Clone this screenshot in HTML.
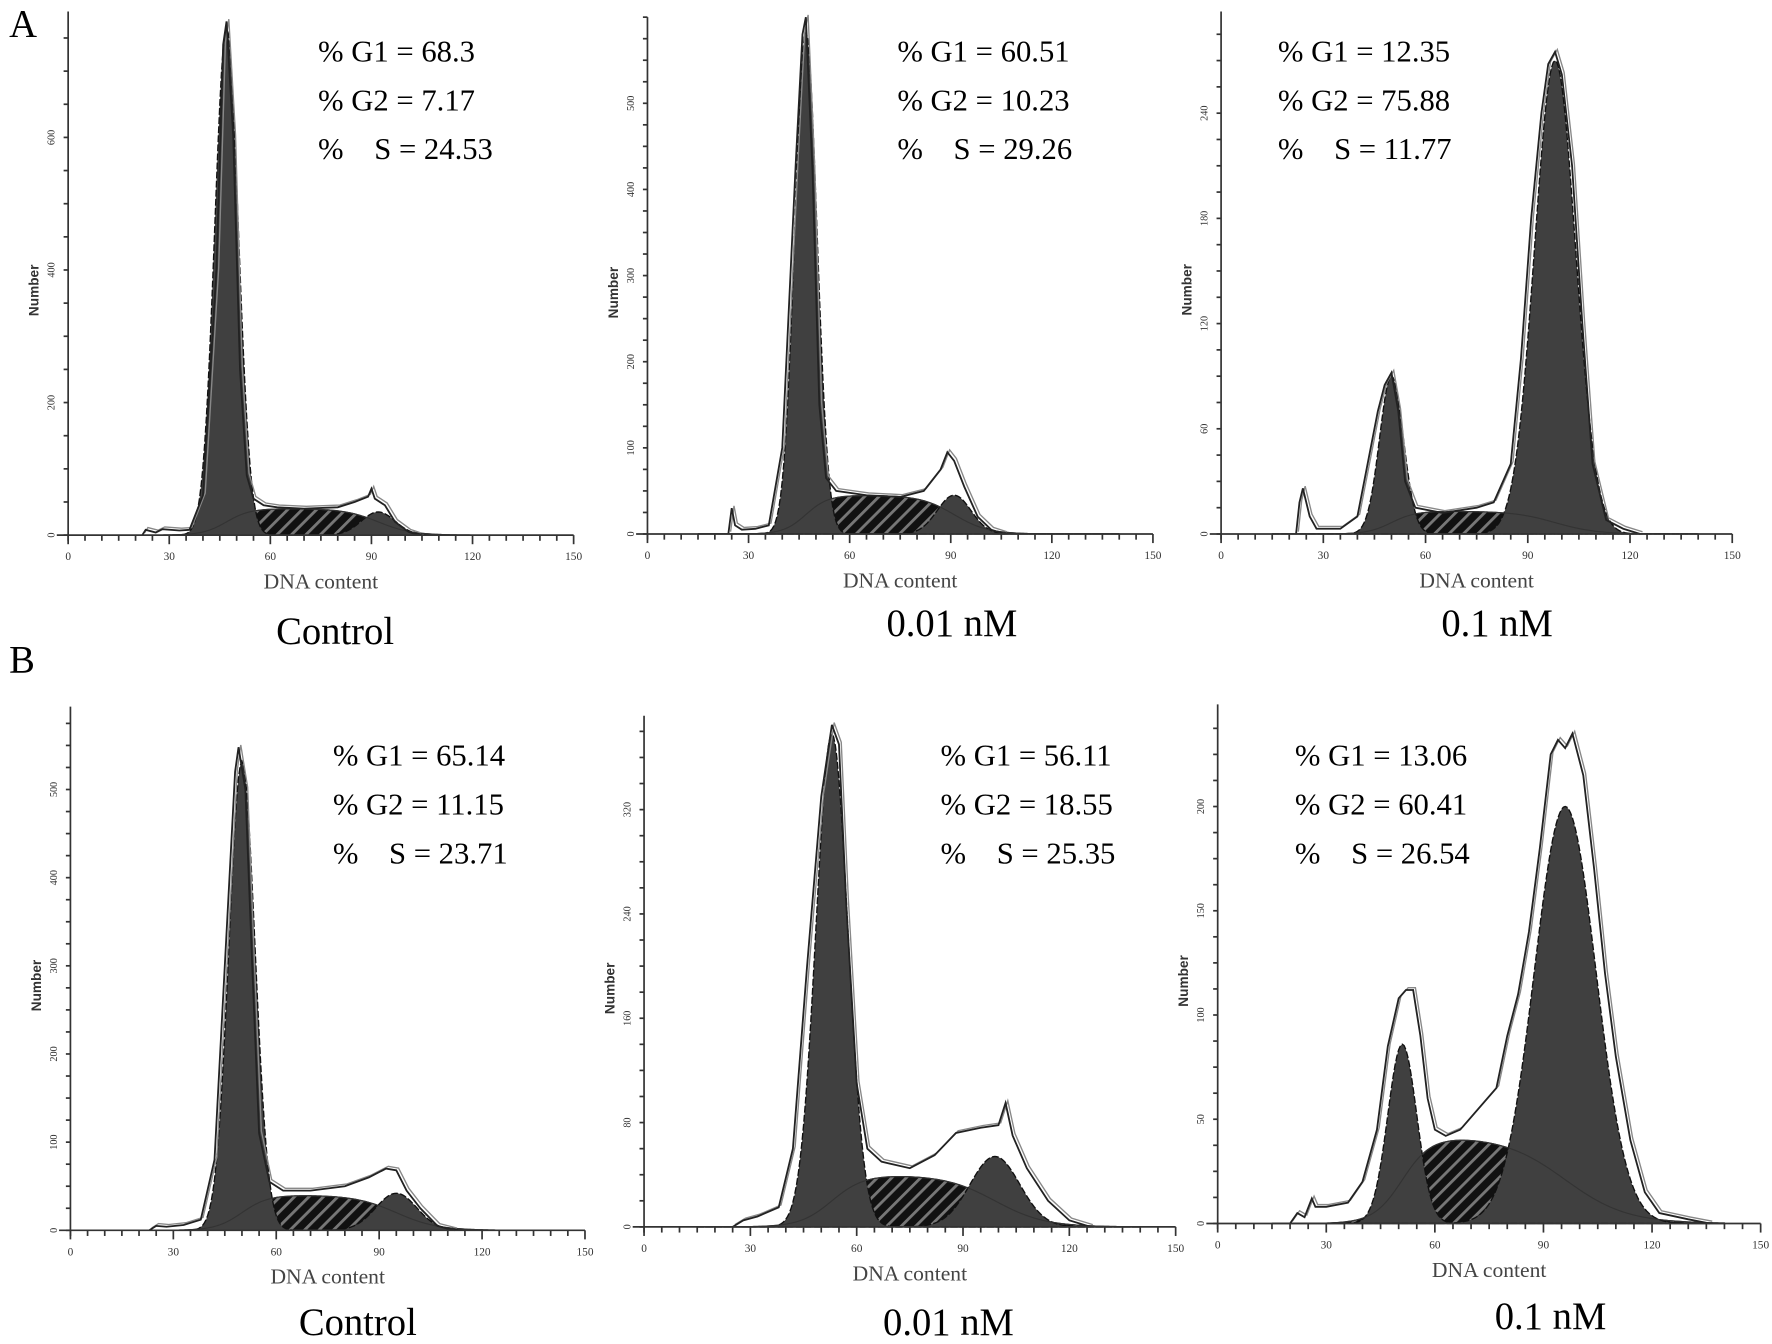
<!DOCTYPE html>
<html><head><meta charset="utf-8"><style>
html,body{margin:0;padding:0;background:#fff;}
svg{display:block;}
</style></head><body>
<svg id="fig" xmlns="http://www.w3.org/2000/svg" width="1772" height="1344" viewBox="0 0 1560 1183">
<defs>
<pattern id="hatchS" patternUnits="userSpaceOnUse" width="9" height="9" patternTransform="rotate(45)">
<rect width="9" height="9" fill="#111"/><rect x="0" y="0" width="2.5" height="9" fill="#777"/>
</pattern>
</defs>
<rect width="1560" height="1183" fill="#fff"/>
<text x="8" y="32" font-family="Liberation Serif, serif" font-size="34">A</text>
<text x="8" y="592" font-family="Liberation Serif, serif" font-size="34">B</text>
<g id="panels"></g>
</svg>
<script>
// ---- data ----
const panelNames = ["a-control","a-0.01nM","a-0.1nM","b-control","b-0.01nM","b-0.1nM"];
const conditionLabels = ["Control","0.01 nM","0.1 nM","Control","0.01 nM","0.1 nM"];
const g1Pct = ["68.3","60.51","12.35","65.14","56.11","13.06"];
const g2Pct = ["7.17","10.23","75.88","11.15","18.55","60.41"];
const sPct = ["24.53","29.26","11.77","23.71","25.35","26.54"];
const yMaxes = [790, 600, 298, 594, 392, 249];
const yTickLists = [[0,200,400,600],[0,100,200,300,400,500],[0,60,120,180,240],[0,100,200,300,400,500],[0,80,160,240,320],[0,50,100,150,200]];
const xTickLabels = [0,30,60,90,120,150];
const g1Mean = [47,47,50,50,53,51];
const g1Height = [765,583,90,532,378,86];
const g1Sd = [3.5,3.3,3.5,3.8,4.5,4];
const g2Mean = [92,91,98,95,99,96];
const g2Height = [35,45,270,42,54,200];
const g2Sd = [5,5,6,6,7,8.5];
const sHeight = [40,45,13,40,40,42];
const rawX = [
 [22,23,26,28,33,36,40,44,46,47,49,51,53,55,58,62,70,80,85,89,90,91,94,97,101,104],
 [24,25,26,28,32,36,40,44,46,47,49,51,53,56,65,75,82,87,89,91,94,98,102,106],
 [22,23,24,26,28,35,40,43,46,48,50,52,54,57,65,75,80,85,88,91,94,96,98,100,103,106,109,113,118,123],
 [23,25,28,33,38,42,45,48,49,51,53,55,58,62,70,80,87,92,95,98,102,107,112],
 [25,28,32,38,42,46,50,53,55,57,60,63,67,75,82,88,95,100,102,104,108,114,120,126],
 [20,22,24,26,27,30,36,40,44,47,50,52,54,56,58,60,63,67,72,77,80,83,86,89,92,94,96,98,101,104,107,110,114,118,122,130,136]
];
const rawY = [
 [0,8,4,9,7,8,60,400,740,775,600,250,90,55,45,42,40,42,50,58,70,55,45,20,5,0],
 [0,30,10,5,6,10,100,430,580,600,420,150,65,50,45,43,50,75,95,85,55,20,5,0],
 [0,18,26,10,3,3,10,40,70,85,92,70,30,15,12,15,18,40,100,180,240,268,275,262,210,120,40,8,3,0],
 [0,5,4,6,12,80,300,520,548,500,300,110,55,45,45,50,60,70,68,45,25,5,0],
 [0,5,8,15,60,200,330,385,370,250,110,60,50,45,55,72,76,78,95,70,45,20,5,0],
 [0,5,3,12,8,8,10,20,45,85,108,112,112,90,60,45,42,45,55,65,90,110,140,180,225,232,228,235,215,170,120,80,40,15,5,2,0]
];
// ---- layout (positions, not data) ----
const layout = [
 {x0:60,x1:505,yb:471,yt:10,tx:280,ty:45,cx:295,cy:567},
 {x0:570,x1:1015,yb:470,yt:15,tx:790,ty:45,cx:838,cy:560},
 {x0:1075,x1:1525,yb:470,yt:10,tx:1125,ty:45,cx:1318,cy:560},
 {x0:62,x1:515,yb:1083,yt:622,tx:293,ty:665,cx:315,cy:1175},
 {x0:567,x1:1035,yb:1080,yt:630,tx:828,ty:665,cx:835,cy:1175},
 {x0:1072,x1:1550,yb:1077,yt:620,tx:1140,ty:665,cx:1365,cy:1170}
];
const NS="http://www.w3.org/2000/svg";
function mk(tag,attrs,parent){const e=document.createElementNS(NS,tag);for(const k in attrs)e.setAttribute(k,attrs[k]);if(parent)parent.appendChild(e);return e;}
function gauss(x,m,s,h){return h*Math.exp(-0.5*((x-m)/s)**2);}
function sig(z){return 1/(1+Math.exp(-z));}
const root=document.getElementById('panels');
for(let i=0;i<6;i++){
 const L=layout[i];
 const xs=v=>L.x0+(v/150)*(L.x1-L.x0);
 const ys=v=>L.yb-(v/yMaxes[i])*(L.yb-L.yt);
 const g=mk('g',{},root);
 
 
 const sPts=[],g1Pts=[],g2Pts=[];
 for(let x=15;x<=140;x+=0.5){
  const sv=sHeight[i]*sig((x-g1Mean[i])/g1Sd[i])*sig((g2Mean[i]-x)/g2Sd[i]);
  sPts.push(xs(x)+','+ys(sv));
  g1Pts.push(xs(x)+','+ys(gauss(x,g1Mean[i],g1Sd[i],g1Height[i])));
  g2Pts.push(xs(x)+','+ys(gauss(x,g2Mean[i],g2Sd[i],g2Height[i])));
 }
 const base=' '+xs(140)+','+L.yb+' '+xs(15)+','+L.yb;
 const s=mk('polygon',{points:sPts.join(' ')+base,fill:'url(#hatchS)',stroke:'#333','stroke-width':1},g);
 
 
 const p1=mk('polygon',{points:g1Pts.join(' ')+base,fill:'#404040',stroke:'#111','stroke-width':1.2,'stroke-dasharray':'6 2'},g);
 
 
 const p2=mk('polygon',{points:g2Pts.join(' ')+base,fill:'#404040',stroke:'#111','stroke-width':1.2,'stroke-dasharray':'6 2'},g);
 
 
 mk('polyline',{points:sPts.join(' '),fill:'none',stroke:'#333','stroke-width':1},g);
 const rp=rawX[i].map((x,k)=>xs(x)+','+ys(rawY[i][k])).join(' ');
 const r2=mk('polyline',{points:rp,fill:'none',stroke:'#888','stroke-width':1.2,transform:'translate(2,-2)'},g);
 
 
 const r=mk('polyline',{points:rp,fill:'none',stroke:'#222','stroke-width':1.6},g);
 
 
 const ax=mk('g',{stroke:'#333','stroke-width':1.5},g);
 
 
 mk('line',{x1:L.x0,y1:L.yt,x2:L.x0,y2:L.yb+5},ax);
 mk('line',{x1:L.x0-10,y1:L.yb,x2:L.x1,y2:L.yb},ax);
 for(let v=0;v<=150;v+=5){mk('line',{x1:xs(v),y1:L.yb,x2:xs(v),y2:L.yb+(v%30===0?8:5)},ax);}
 const step=yTickLists[i][1]/4;
 for(let v=0;v<=yMaxes[i];v+=step){mk('line',{x1:L.x0-4,y1:ys(v),x2:L.x0,y2:ys(v)},ax);}
 xTickLabels.forEach(v=>{const t=mk('text',{x:xs(v),y:L.yb+22,'font-size':10,'text-anchor':'middle','font-family':'Liberation Serif, serif',fill:'#333'},g);t.textContent=v;
  
  });
 yTickLists[i].forEach(v=>{const t=mk('text',{x:0,y:0,'font-size':9,'text-anchor':'middle','font-family':'Liberation Serif, serif',fill:'#333',transform:`translate(${L.x0-12},${ys(v)}) rotate(-90)`},g);t.textContent=v;
  
  });
 const yl=mk('text',{x:0,y:0,'font-size':12,'font-weight':'bold','text-anchor':'middle','font-family':'Liberation Sans, sans-serif',fill:'#333',transform:`translate(${L.x0-26},${(L.yt+L.yb)/2+15}) rotate(-90)`},g);
 yl.textContent='Number';
 
 
 const xl=mk('text',{x:(L.x0+L.x1)/2,y:L.yb+47,'font-size':19,'text-anchor':'middle','font-family':'Liberation Serif, serif',fill:'#444'},g);
 xl.textContent='DNA content';
 
 
 const st=[['% G1 = '+g1Pct[i],'g1-stat'],['% G2 = '+g2Pct[i],'g2-stat'],['%\u00a0\u00a0\u00a0\u00a0S = '+sPct[i],'s-stat']];
 st.forEach((s2,k)=>{const t=mk('text',{x:L.tx,y:L.ty+k*43+9,'font-size':27,'font-family':'Liberation Serif, serif',fill:'#000'},g);t.textContent=s2[0];
  
  });
 const c=mk('text',{x:L.cx,y:L.cy,'font-size':34,'text-anchor':'middle','font-family':'Liberation Serif, serif',fill:'#000'},g);
 c.textContent=conditionLabels[i];
 
 
}
</script>
</body></html>
